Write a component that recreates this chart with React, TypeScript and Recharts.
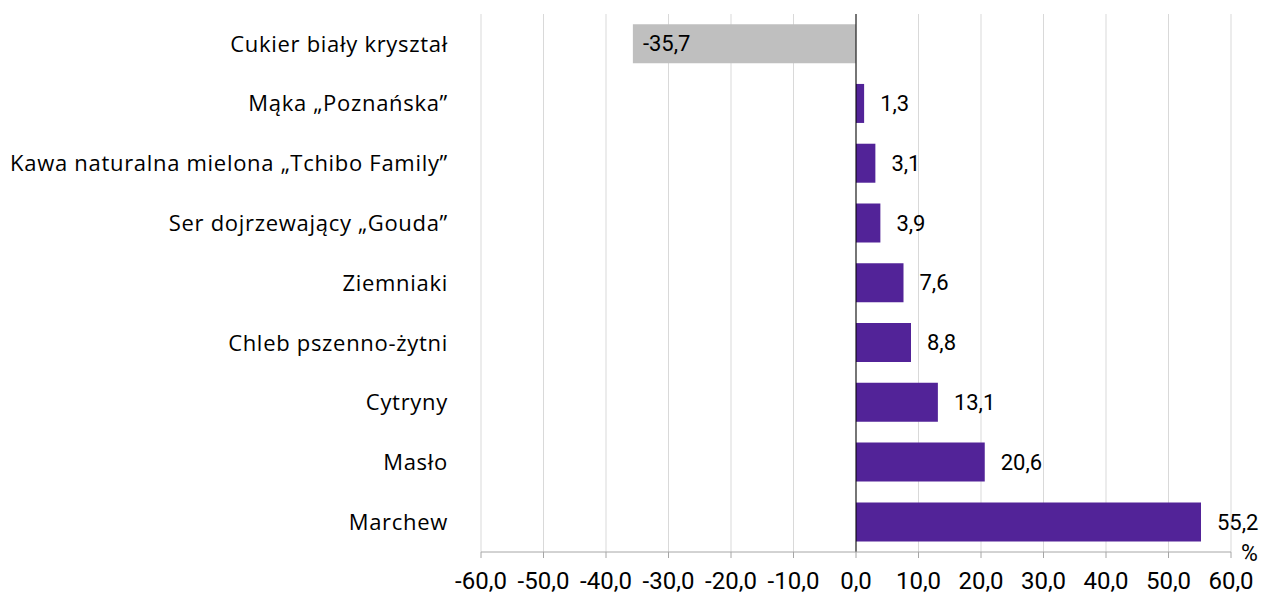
import React from 'react';
import { BarChart, Bar, XAxis, YAxis, CartesianGrid, Cell, LabelList, ReferenceLine, Label } from 'recharts';

const products = [
    'Cukier biały kryształ',
    'Mąka „Poznańska”',
    'Kawa naturalna mielona „Tchibo Family”',
    'Ser dojrzewający „Gouda”',
    'Ziemniaki',
    'Chleb pszenno-żytni',
    'Cytryny',
    'Masło',
    'Marchew',
];
const changes = [-35.7, 1.3, 3.1, 3.9, 7.6, 8.8, 13.1, 20.6, 55.2];
const xTicks = [-60, -50, -40, -30, -20, -10, 0, 10, 20, 30, 40, 50, 60];

const FONT = '"Open Sans", sans-serif';
const NUM_FONT = 'Roboto, sans-serif';
const PURPLE = '#522398';
const GREY = '#bfbfbf';

const fmt = (v: number) => v.toFixed(1).replace('.', ',');

const data = products.map((name, i) => ({ name, value: changes[i] }));

const ValueLabel = (props: any) => {
    const { x, y, width, height, value } = props;
    const cy = y + height / 2;
    // negative bar: label sits inside, near the left end
    const tx = value < 0 ? x + width + 10 : x + width + 16;
    return (
        <text x={tx} y={cy} dy="0.35em" fontSize={22} fontFamily={NUM_FONT} fill="#000">
            {fmt(value)}
        </text>
    );
};

const PercentLabel = (props: any) => {
    const { viewBox } = props;
    return (
        <text x={viewBox.x + viewBox.width + 10} y={viewBox.y + 1} dy="0.35em" fontSize={23} fontFamily={NUM_FONT} fill="#000">
            %
        </text>
    );
};

const App: React.FC = () => {
    return (
        <div style={{ position: 'absolute', left: 0, top: 0 }}>
            <BarChart
                width={1264}
                height={594}
                data={data}
                layout="vertical"
                margin={{ top: 14, right: 33, bottom: 0, left: 0 }}
                barCategoryGap="17%"
            >
                <CartesianGrid horizontal={false} stroke="#d9d9d9" strokeWidth={1} />
                <XAxis
                    type="number"
                    domain={[-60, 60]}
                    ticks={xTicks}
                    tickFormatter={fmt}
                    height={42}
                    axisLine={{ stroke: '#a6a6a6' }}
                    tickLine={{ stroke: '#a6a6a6' }}
                    tickMargin={14}
                    tick={{ fontSize: 24, fontFamily: NUM_FONT, fill: '#000' }}
                    interval={0}
                >
                    <Label content={PercentLabel} />
                </XAxis>
                <YAxis
                    type="category"
                    dataKey="name"
                    width={481}
                    axisLine={false}
                    tickLine={false}
                    tickMargin={27}
                    tick={{ fontSize: 22, fontFamily: FONT, fill: '#000', letterSpacing: 0.7 }}
                    interval={0}
                />
                <Bar dataKey="value" isAnimationActive={false}>
                    {data.map((d, i) => (
                        <Cell key={`c-${i}`} fill={d.value < 0 ? GREY : PURPLE} />
                    ))}
                    <LabelList dataKey="value" content={ValueLabel} />
                </Bar>
                <ReferenceLine x={0} stroke="#000" strokeWidth={1} />
            </BarChart>
        </div>
    );
};

export default App;
